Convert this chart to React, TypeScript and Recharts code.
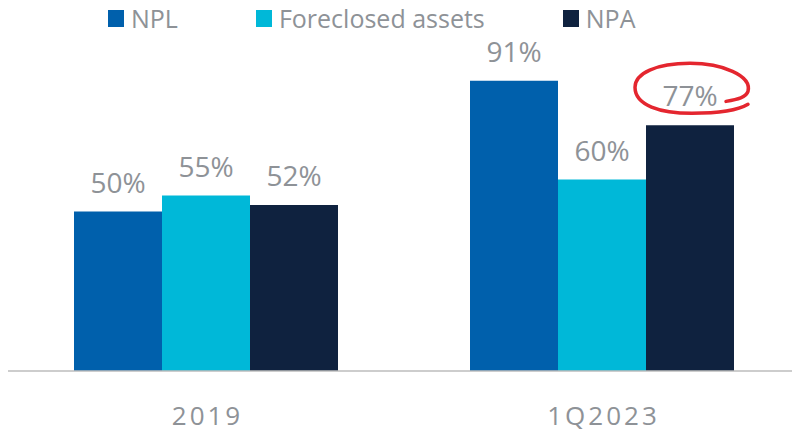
import React from 'react';
import { BarChart, Bar, XAxis, YAxis, LabelList } from 'recharts';

const categories = ['2019', '1Q2023'];
const npl = [50, 91];
const foreclosed = [55, 60];
const npa = [52, 77];

// the value circled in red on the original slide
const circledCategory = '1Q2023';

const series = [
  { key: 'npl', name: 'NPL', color: '#0060AC' },
  { key: 'foreclosed', name: 'Foreclosed assets', color: '#00B8D8' },
  { key: 'npa', name: 'NPA', color: '#0F223F' },
];

const data = categories.map((category, i) => ({
  category,
  npl: npl[i],
  foreclosed: foreclosed[i],
  npa: npa[i],
}));

const FONT = '"Open Sans", "Noto Sans", sans-serif';
const GREY = '#8E9297';

const renderValue = (props: any) => {
  const { x, y, width, value } = props;
  return (
    <text
      x={x + width / 2}
      y={y - 19}
      textAnchor="middle"
      fill={GREY}
      fontSize={28}
      fontFamily={FONT}
    >
      {`${value}%`}
    </text>
  );
};

const renderCircledValue = (props: any) => {
  const { x, y, width, index } = props;
  const cx = x + width / 2;
  const circled = data[index]?.category === circledCategory;
  return (
    <g>
      {renderValue(props)}
      {circled && (
        <path
          d={`M ${cx + 36} ${y - 24}
              C ${cx + 48} ${y - 26} ${cx + 56} ${y - 28} ${cx + 58} ${y - 34}
              C ${cx + 62} ${y - 50} ${cx + 32} ${y - 62} ${cx} ${y - 62}
              C ${cx - 34} ${y - 62} ${cx - 55} ${y - 52} ${cx - 55} ${y - 38}
              C ${cx - 55} ${y - 20} ${cx - 30} ${y - 12} ${cx + 2} ${y - 12}
              C ${cx + 28} ${y - 12} ${cx + 48} ${y - 15} ${cx + 58} ${y - 21}`}
          fill="none"
          stroke="#E4262F"
          strokeWidth={3.5}
          strokeLinecap="round"
        />
      )}
    </g>
  );
};

function ChartLegend() {
  return (
    <div
      style={{
        position: 'absolute',
        left: 108,
        top: 3,
        display: 'flex',
        gap: 78,
        fontFamily: FONT,
        fontSize: 25,
        color: GREY,
        lineHeight: '30px',
        whiteSpace: 'nowrap',
      }}
    >
      {series.map((s) => (
        <div key={s.key} style={{ display: 'flex', alignItems: 'center', gap: 7 }}>
          <span style={{ width: 16, height: 17, background: s.color, display: 'inline-block' }} />
          <span>{s.name}</span>
        </div>
      ))}
    </div>
  );
}

export default function App() {
  return (
    <div
      style={{
        position: 'absolute',
        left: 0,
        top: 0,
        width: 792,
        height: 434,
        overflow: 'hidden',
        background: '#ffffff',
      }}
    >
      <BarChart
        width={800}
        height={434}
        data={data}
        margin={{ top: 52, right: 0, bottom: 0, left: 8 }}
        barCategoryGap={66}
        barGap={0}
      >
        <XAxis
          dataKey="category"
          height={63}
          axisLine={{ stroke: '#BDBDBD', strokeWidth: 1.5 }}
          tickLine={false}
          tickSize={0}
          tickMargin={36}
          tick={{ fill: GREY, fontSize: 26, fontFamily: FONT, letterSpacing: 3, dx: 1.5 }}
        />
        <YAxis hide domain={[0, 100]} />
        <Bar dataKey="npl" name="NPL" fill={series[0].color} isAnimationActive={false}>
          <LabelList dataKey="npl" content={renderValue} />
        </Bar>
        <Bar dataKey="foreclosed" name="Foreclosed assets" fill={series[1].color} isAnimationActive={false}>
          <LabelList dataKey="foreclosed" content={renderValue} />
        </Bar>
        <Bar dataKey="npa" name="NPA" fill={series[2].color} isAnimationActive={false}>
          <LabelList dataKey="npa" content={renderCircledValue} />
        </Bar>
      </BarChart>
      <ChartLegend />
    </div>
  );
}
